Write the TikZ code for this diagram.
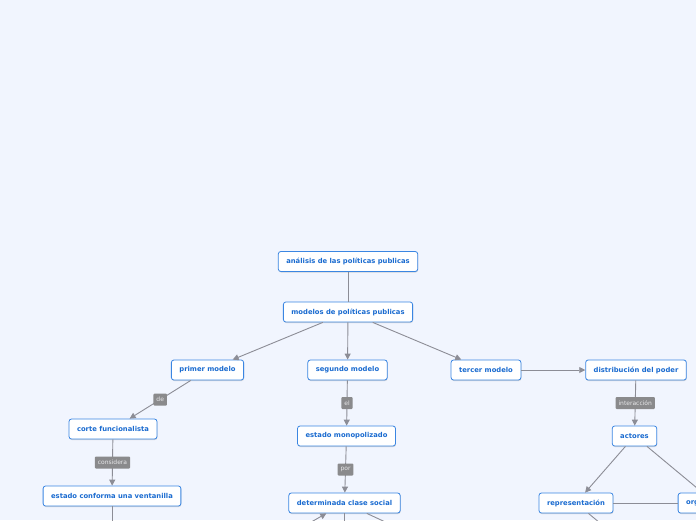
\documentclass[tikz,border=0pt]{standalone}
\usepackage{fontspec}
\setsansfont{DejaVu Sans}
\usetikzlibrary{arrows.meta, shadows}

\definecolor{bgblue}{HTML}{F1F5FE}
\definecolor{nodeblue}{HTML}{3B86E2}
\definecolor{txtblue}{HTML}{1A6BD0}
\definecolor{lblgray}{HTML}{8A8A8C}
\definecolor{lbltext}{HTML}{E8E8EA}
\definecolor{linegray}{HTML}{8C8D96}

\begin{document}
\begin{tikzpicture}[x=1pt, y=-1pt,
    box/.style={draw=nodeblue, fill=white, rounded corners=2.5pt, line width=0.8pt,
        minimum height=20pt, inner xsep=8pt, inner ysep=0pt, text=txtblue,
        font=\sffamily\bfseries\fontsize{6.8}{8}\selectfont,
        drop shadow={shadow xshift=0.4pt, shadow yshift=-1pt, fill=black!30, opacity=0.5}},
    lbl/.style={fill=lblgray, rounded corners=1pt, text=lbltext, minimum height=12pt,
        inner xsep=3pt, inner ysep=0pt, font=\sffamily\fontsize{6}{7}\selectfont},
    line/.style={draw=linegray, line width=0.9pt},
    arrow/.style={line, -{Triangle[length=6pt, width=6pt]}}
]
\useasboundingbox (0,0) rectangle (696,520);
\clip (0,0) rectangle (696,520);
\fill[bgblue] (0,0) rectangle (696,520);

% Nodes
\node[box] (analisis) at (348,261.5) {análisis de las políticas publicas};
\node[box] (modelos) at (348,312) {modelos de políticas publicas};

\node[box] (primer) at (207.5,370) {primer modelo};
\node[box] (segundo) at (347.5,370) {segundo modelo};
\node[box] (tercer) at (486,370) {tercer modelo};
\node[box] (poder) at (636,370) {distribución del poder};

\node[box] (corte) at (113,429) {corte funcionalista};
\node[box] (monop) at (346.5,436) {estado monopolizado};
\node[box] (actores) at (634.5,436) {actores};

\node[box] (ventanilla) at (112,496) {estado conforma una ventanilla};
\node[box] (clase) at (344.5,503) {determinada clase social};
\node[box] (repr) at (576,503) {representación};
\node[box] (org) at (715,503) {organizaciones};

% free ends below the edge
\coordinate (ventdown) at (112,560);
\coordinate (claseleft) at (257,553);
\coordinate (clasedown) at (344.5,560);
\coordinate (claseright) at (452,553);
\coordinate (reprdown) at (636,553);

% Arrows
\draw[line] (analisis) -- (modelos);
\draw[arrow] (modelos) -- (primer);
\draw[arrow] (modelos) -- (segundo);
\draw[arrow] (modelos) -- (tercer);

\draw[arrow] (primer) -- node[lbl] {de} (corte);
\draw[arrow] (segundo) -- node[lbl] {el} (monop);
\draw[arrow] (tercer) -- (poder);

\draw[arrow] (corte) -- node[lbl] {considera} (ventanilla);
\draw[arrow] (monop) -- node[lbl] {por} (clase);
\draw[arrow] (poder) -- node[lbl] {interacción} (actores);

\draw[arrow] (actores) -- (repr);
\draw[arrow] (actores) -- (org);
\draw[line] (repr) -- (org);

\draw[line] (ventanilla) -- (ventdown);
\draw[arrow] (claseleft) -- (clase);
\draw[line] (clase) -- (clasedown);
\draw[line] (clase) -- (claseright);
\draw[line] (repr) -- (reprdown);

\end{tikzpicture}
\end{document}
